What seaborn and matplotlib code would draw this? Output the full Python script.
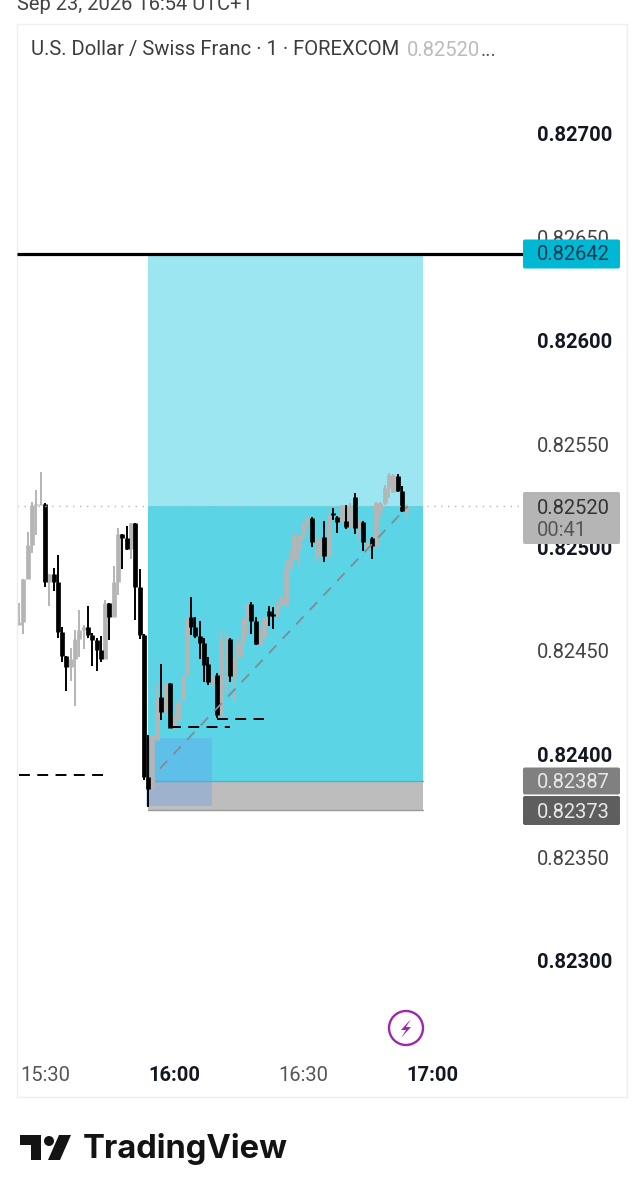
import pandas as pd
import matplotlib
matplotlib.use('Agg')
import matplotlib.pyplot as plt
import seaborn as sns
from matplotlib.patches import Rectangle, FancyBboxPatch, Ellipse, Polygon

# minutes after 15:30, one candle per minute
minutes = list(range(-6, 85))

opens = [
    0.824625, 0.824638, 0.824847, 0.825012, 0.825205, 0.825205, 0.825209, 0.824834, 0.824872, 0.824834,
    0.824593, 0.824477, 0.824420, 0.824460, 0.824556, 0.824601, 0.824617, 0.824576, 0.824552, 0.824504,
    0.824460, 0.824733, 0.824665, 0.824831, 0.825063, 0.825044, 0.824991, 0.825117, 0.824810, 0.824576,
    0.823891, 0.823830, 0.824069, 0.824275, 0.824206, 0.824343, 0.824128, 0.824165, 0.824262, 0.824383,
    0.824662, 0.824617, 0.824573, 0.824540, 0.824436, 0.824351, 0.824383, 0.824190, 0.824552, 0.824556,
    0.824378, 0.824472, 0.824544, 0.824657, 0.824726, 0.824646, 0.824531, 0.824569, 0.824694, 0.824676,
    0.824670, 0.824722, 0.824722, 0.824899, 0.824944, 0.824988, 0.825044, 0.825117, 0.825141, 0.825028,
    0.824963, 0.825052, 0.824960, 0.825165, 0.825149, 0.825121, 0.825128, 0.825100, 0.825246, 0.825096,
    0.825125, 0.824996, 0.825047, 0.825007, 0.825181, 0.825213, 0.825286, 0.825270, 0.825347, 0.825275,
    0.825176,
]
closes = [
    0.824638, 0.824847, 0.825012, 0.825205, 0.825209, 0.825209, 0.824834, 0.824872, 0.824834, 0.824593,
    0.824477, 0.824420, 0.824460, 0.824556, 0.824601, 0.824617, 0.824576, 0.824552, 0.824504, 0.824460,
    0.824733, 0.824665, 0.824831, 0.825063, 0.825044, 0.824991, 0.825117, 0.824810, 0.824576, 0.823891,
    0.823830, 0.824093, 0.824270, 0.824206, 0.824343, 0.824128, 0.824181, 0.824254, 0.824383, 0.824662,
    0.824617, 0.824573, 0.824540, 0.824431, 0.824351, 0.824375, 0.824190, 0.824552, 0.824556, 0.824378,
    0.824472, 0.824544, 0.824657, 0.824726, 0.824646, 0.824531, 0.824569, 0.824665, 0.824670, 0.824670,
    0.824722, 0.824762, 0.824899, 0.824944, 0.825060, 0.825060, 0.825117, 0.825141, 0.825028, 0.825031,
    0.825036, 0.824960, 0.825157, 0.825157, 0.825121, 0.825205, 0.825100, 0.825205, 0.825096, 0.825125,
    0.825026, 0.825020, 0.825007, 0.825213, 0.825213, 0.825286, 0.825350, 0.825350, 0.825275, 0.825176,
    0.825197,
]
highs = [
    0.824730, 0.824847, 0.825076, 0.825221, 0.825278, 0.825363, 0.825213, 0.824872, 0.824902, 0.824963,
    0.824617, 0.824477, 0.824512, 0.824601, 0.824697, 0.824625, 0.824717, 0.824585, 0.824560, 0.824573,
    0.824746, 0.824733, 0.824910, 0.825092, 0.825063, 0.825104, 0.825117, 0.825117, 0.824896, 0.824580,
    0.824093, 0.824093, 0.824343, 0.824436, 0.824343, 0.824343, 0.824190, 0.824254, 0.824383, 0.824662,
    0.824762, 0.824662, 0.824646, 0.824560, 0.824472, 0.824383, 0.824391, 0.824593, 0.824593, 0.824560,
    0.824472, 0.824569, 0.824657, 0.824726, 0.824735, 0.824662, 0.824601, 0.824665, 0.824718, 0.824714,
    0.824746, 0.824770, 0.824939, 0.824988, 0.825076, 0.825060, 0.825125, 0.825157, 0.825146, 0.825044,
    0.825044, 0.825128, 0.825165, 0.825189, 0.825152, 0.825205, 0.825205, 0.825213, 0.825262, 0.825133,
    0.825130, 0.825028, 0.825052, 0.825221, 0.825221, 0.825302, 0.825362, 0.825355, 0.825355, 0.825297,
    0.825205,
]
lows = [
    0.824625, 0.824581, 0.824847, 0.824972, 0.825060, 0.825205, 0.824810, 0.824717, 0.824791, 0.824560,
    0.824448, 0.824306, 0.824356, 0.824233, 0.824472, 0.824507, 0.824564, 0.824427, 0.824404, 0.824448,
    0.824460, 0.824552, 0.824665, 0.824770, 0.824896, 0.824988, 0.824942, 0.824649, 0.824556, 0.823875,
    0.823743, 0.823827, 0.824069, 0.824165, 0.824198, 0.824128, 0.824128, 0.824165, 0.824262, 0.824383,
    0.824576, 0.824560, 0.824459, 0.824351, 0.824335, 0.824327, 0.824174, 0.824190, 0.824294, 0.824351,
    0.824254, 0.824464, 0.824472, 0.824560, 0.824581, 0.824527, 0.824527, 0.824560, 0.824622, 0.824606,
    0.824665, 0.824714, 0.824718, 0.824891, 0.824939, 0.824912, 0.825036, 0.825084, 0.825004, 0.824931,
    0.824955, 0.824928, 0.824955, 0.825133, 0.825071, 0.825117, 0.825088, 0.825092, 0.825065, 0.825036,
    0.824985, 0.824985, 0.824942, 0.825001, 0.825141, 0.825205, 0.825238, 0.825265, 0.825270, 0.825173,
    0.825141,
]

price_ticks = [0.82300, 0.82350, 0.82400, 0.82450, 0.82500, 0.82550, 0.82600, 0.82650, 0.82700]
price_labels = ['0.82300', '0.82350', '0.82400', '0.82450', '0.82500', '0.82550', '0.82600', '0.82650', '0.82700']
time_ticks = [0, 30, 60, 90]
time_labels = ['15:30', '16:00', '16:30', '17:00']

target_price = 0.82642
last_price = 0.82520
entry_price = 0.82387
stop_price = 0.82373
zone_low = 0.82375
zone_high = 0.82408
pos_start, pos_end = 24, 88
zone_start, zone_end = 23.6, 38.9

level_a = ([-6, 13.6], [0.82390, 0.82390])
level_b = ([29, 43], [0.82413, 0.82413])
level_c = ([40, 51], [0.82417, 0.82417])
trend_x = [26.7, 84.4]
trend_y = [0.82393, 0.82520]

sns.set_theme(style='white')
plt.rcParams['font.family'] = ['Roboto', 'DejaVu Sans']

df = pd.DataFrame({'minute': minutes, 'open': opens, 'close': closes, 'high': highs, 'low': lows})
df['dir'] = ['up' if c >= o else 'down' for o, c in zip(df['open'], df['close'])]
wicks = df.melt(id_vars=['minute', 'dir'], value_vars=['low', 'high'], value_name='price')
bodies = df.melt(id_vars=['minute', 'dir'], value_vars=['open', 'close'], value_name='price')
palette = {'up': '#b5b5b5', 'down': '#000000'}

fig = plt.figure(figsize=(6.44, 11.99), dpi=100)
ax = fig.add_axes([17 / 644, 1 - 1097 / 1199, 610 / 644, 1073 / 1199])
ax.set_xlim(-6.51, 135.35)
ax.set_ylim(0.822342, 0.827532)

# long/short position box
ax.add_patch(Rectangle((pos_start, last_price), pos_end - pos_start, target_price - last_price, color='#9be6f0', lw=0, zorder=1))
ax.add_patch(Rectangle((pos_start, entry_price), pos_end - pos_start, last_price - entry_price, color='#5bd4e6', lw=0, zorder=1))
ax.add_patch(Rectangle((pos_start, stop_price), pos_end - pos_start, entry_price - stop_price, color='#bdbdbd', lw=0, zorder=1))
ax.plot([pos_start, pos_end], [stop_price, stop_price], color='#9a9a9a', lw=1, zorder=1.1)
ax.plot([pos_start, pos_end], [entry_price, entry_price], color='#4fb5c4', lw=1, zorder=1.1)
ax.add_patch(Rectangle((zone_start, zone_low), zone_end - zone_start, zone_high - zone_low, color='#669bec', alpha=0.35, lw=0, zorder=1.5))

# candles
sns.lineplot(data=wicks, x='minute', y='price', hue='dir', units='minute', estimator=None, palette=palette,
             hue_order=['up', 'down'], linewidth=1.4, legend=False, ax=ax, zorder=2, solid_capstyle='butt')
sns.lineplot(data=bodies, x='minute', y='price', hue='dir', units='minute', estimator=None, palette=palette,
             hue_order=['up', 'down'], linewidth=3.4, legend=False, ax=ax, zorder=2.2, solid_capstyle='butt')

# horizontal lines
ax.plot([ax.get_xlim()[0], 111.2], [target_price, target_price], color='black', lw=2.3, zorder=4, solid_capstyle='butt')
ax.plot([ax.get_xlim()[0], 111.2], [last_price, last_price], color='#b5b5b5', lw=1, ls=(0, (1, 4)), zorder=2.5)
for lx, ly in (level_a, level_b, level_c):
    ax.plot(lx, ly, color='black', lw=1.4, ls=(0, (5.6, 3.8)), zorder=4)
ax.plot(trend_x, trend_y, color='#808c92', lw=1.3, ls=(0, (6, 5)), zorder=4)

ax.yaxis.tick_right()
ax.set_yticks(price_ticks)
ax.set_yticklabels(price_labels)
ax.set_xticks(time_ticks)
ax.set_xticklabels(time_labels)
ax.tick_params(axis='y', length=0, pad=-64.8, labelsize=14.5)
ax.tick_params(axis='x', length=0, pad=-22.5, labelsize=14.5)
ax.set_xlabel('')
ax.set_ylabel('')
for lab in ax.get_yticklabels():
    lab.set_verticalalignment('center_baseline')
    if lab.get_text().endswith('00'):
        lab.set_fontweight('bold')
        lab.set_color('#131722')
    else:
        lab.set_color('#444444')
for lab in ax.get_xticklabels():
    if lab.get_text().endswith('00'):
        lab.set_fontweight('bold')
        lab.set_color('#131722')
    else:
        lab.set_color('#555555')
for s in ax.spines.values():
    s.set_color('#efefef')
    s.set_linewidth(1)

# overlay in pixels for the app chrome
ov = fig.add_axes([0, 0, 1, 1], zorder=10)
ov.set_xlim(0, 644)
ov.set_ylim(1199, 0)
ov.axis('off')


def badge(yc, h, color):
    ov.add_patch(FancyBboxPatch((525, yc - h / 2 + 2), 93, h - 4, boxstyle='round,pad=2', fc=color, ec='none'))


badge(254, 29, '#00b8d4')
badge(518, 52, '#b5b5b5')
badge(781, 27, '#808080')
badge(810.5, 29, '#5e5e5e')
ov.text(537, 255, '0.82642', fontsize=14.5, color='#0b3c52', va='center')
ov.text(537, 508, '0.82520', fontsize=14.5, color='#333333', va='center')
ov.text(537, 531, '00:41', fontsize=14.5, color='#555555', va='center')
ov.text(537, 782, '0.82387', fontsize=14.5, color='#e8e8e8', va='center')
ov.text(537, 812, '0.82373', fontsize=14.5, color='#e8e8e8', va='center')

# header
ov.text(17, 4, 'Sep 23, 2026 16:54 UTC+1', fontsize=14.5, color='#444444', va='center')
ov.text(31, 50, 'U.S. Dollar / Swiss Franc · 1 · FOREXCOM', fontsize=14.55, color='#3c3c3c', va='center')
ov.text(407, 50, '0.82520', fontsize=14.55, color='#bbbbbb', va='center')
ov.text(481, 50, '...', fontsize=14.55, color='#555555', va='center')

# lightning icon
ov.add_patch(Ellipse((406, 1028), 34, 34, fc='white', ec='#9c27b0', lw=1.7))
ov.add_patch(Polygon([[411, 1019], [401, 1030], [406, 1030], [401, 1038], [411, 1027], [406, 1027]], fc='#9c27b0', ec='none'))

# logo
ov.add_patch(Polygon([[20, 1135], [41, 1135], [41, 1160], [31, 1160], [31, 1145], [20, 1145]], fc='#131313', ec='none'))
ov.add_patch(Ellipse((49, 1141), 10, 10, fc='#131313', ec='none'))
ov.add_patch(Polygon([[59, 1135], [71, 1135], [60, 1160], [48, 1160]], fc='#131313', ec='none'))
ov.text(83, 1149, 'TradingView', family=['Inter', 'DejaVu Sans'], fontsize=23.6, fontweight='bold', color='#131313', va='center')

fig.savefig('out.png', dpi=100, facecolor='white')
